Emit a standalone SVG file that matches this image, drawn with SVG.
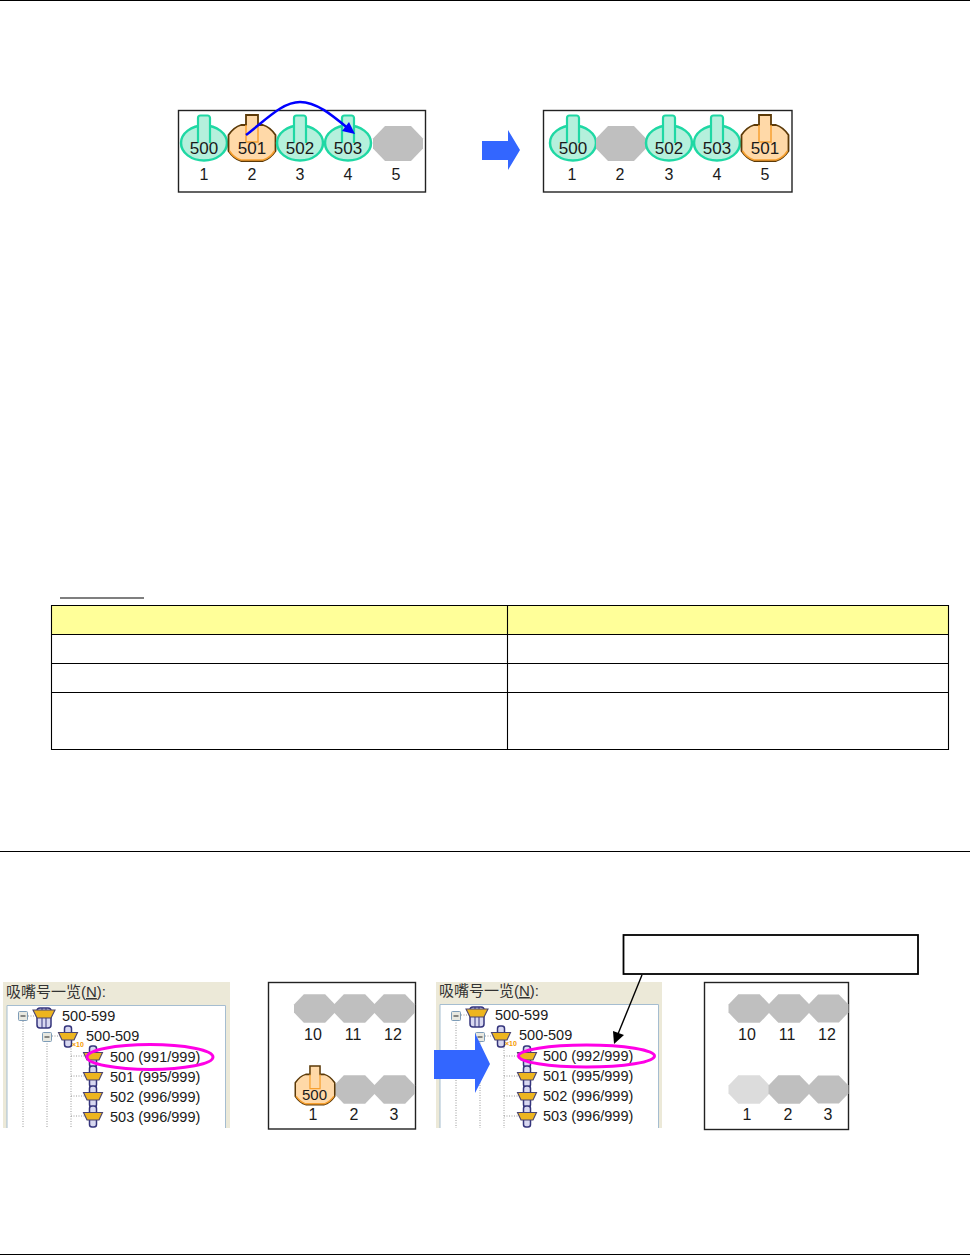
<svg xmlns="http://www.w3.org/2000/svg" width="970" height="1255" viewBox="0 0 970 1255">
<style>
text{font-family:"Liberation Sans","Noto Sans CJK SC",sans-serif;fill:#1a1a1a}
.n{font-size:17px;text-anchor:middle}
.s{font-size:16px;text-anchor:middle}
.t{font-size:14.5px}
.c{font-size:15px;fill:#333}
.rule{stroke:#000;stroke-width:1;fill:none}
.frame{fill:#fff;stroke:#222;stroke-width:1.4}
.tbl{fill:none;stroke:#000;stroke-width:1.1}
.dot{stroke:#999;stroke-width:1;stroke-dasharray:1 1.5;fill:none}
.ring{fill:none;stroke:#ff00e6;stroke-width:3}
.gray{fill:#bfbfbf}
.big{fill:#3366ff}
</style>
<defs>
<g id="green">
<ellipse cx="0" cy="0" rx="23" ry="17.500" fill="#b5f0dc" stroke="#1fd8a4" stroke-width="2.500"/>
<path d="M-6,0V-25a2.500,2.500 0 0 1 2.500,-2.500h7a2.500,2.500 0 0 1 2.500,2.500V0" fill="#b5f0dc" stroke="#1fd8a4" stroke-width="2.200"/>
</g>
<g id="orange">
<path d="M-6,-28H6V-18H11Q18,-16 23.500,-8V8Q18,16 11,18H-11Q-18,16 -23.500,8V-8Q-18,-16 -11,-18H-6Z" fill="#ffd9a8" stroke="#5c3a08" stroke-width="1.800"/>
<path d="M-6,-18V-1H6V-18" fill="none" stroke="#f7a030" stroke-width="1.500"/>
<path d="M-22.500,8Q-18,15 -11,17H11Q18,15 22.500,8" fill="none" stroke="#f7a030" stroke-width="1.600"/>
</g>
<polygon id="oct" class="gray" points="-13,-17.500 13,-17.500 25,-5 25,5 13,17.500 -13,17.500 -25,5 -25,-5"/>
<g id="noz">
<rect x="-3.500" y="-10" width="7" height="21" rx="2.500" fill="#d8d8f0" stroke="#34347c" stroke-width="1.500"/>
<path d="M-9.500,-3.500H9.500L6,4H-6Z" fill="#edb51f" stroke="#4a4470" stroke-width="1.100"/>
</g>
<g id="noz2">
<rect x="-7" y="-8" width="14" height="20" rx="3" fill="#d8d8f0" stroke="#34347c" stroke-width="1.500"/>
<path d="M-2,-8V12M2,-8V12" stroke="#34347c" stroke-width="1"/>
<path d="M-11,-6H11L7,2H-7Z" fill="#edb51f" stroke="#4a4470" stroke-width="1.100"/>
</g>
<g id="box">
<rect x="-4.500" y="-4.500" width="9" height="9" rx="1" fill="#e8e8e0" stroke="#7d9cb8"/>
<path d="M-2.500,0H2.500" stroke="#222"/>
</g>
</defs>

<rect width="970" height="1255" fill="#fff"/>

<g id="rules">
<path class="rule" d="M0,0.500H970M0,851.500H970M0,1254.500H970"/>
</g>

<g id="panel-before">
<rect class="frame" x="178.500" y="110.500" width="247" height="81.500"/>
<g id="b500"><use href="#green" x="204" y="143"/><text class="n" x="204" y="154">500</text><text class="s" x="204" y="180">1</text></g>
<g id="b501"><use href="#orange" x="252" y="143"/><text class="n" x="252" y="154">501</text><text class="s" x="252" y="180">2</text></g>
<g id="b502"><use href="#green" x="300" y="143"/><text class="n" x="300" y="154">502</text><text class="s" x="300" y="180">3</text></g>
<g id="b503"><use href="#green" x="348" y="143"/><text class="n" x="348" y="154">503</text><text class="s" x="348" y="180">4</text></g>
<g id="b5"><use href="#oct" x="398" y="143.500"/><text class="s" x="396" y="180">5</text></g>
</g>

<g id="panel-after">
<rect class="frame" x="543.500" y="110.500" width="248.500" height="81.500"/>
<g id="a500"><use href="#green" x="573" y="143"/><text class="n" x="573" y="154">500</text><text class="s" x="572" y="180">1</text></g>
<g id="a2"><use href="#oct" x="621" y="143.500"/><text class="s" x="620" y="180">2</text></g>
<g id="a502"><use href="#green" x="669" y="143"/><text class="n" x="669" y="154">502</text><text class="s" x="669" y="180">3</text></g>
<g id="a503"><use href="#green" x="717" y="143"/><text class="n" x="717" y="154">503</text><text class="s" x="717" y="180">4</text></g>
<g id="a501"><use href="#orange" x="765" y="143"/><text class="n" x="765" y="154">501</text><text class="s" x="765" y="180">5</text></g>
</g>

<g id="table">
<path d="M60,598H144" stroke="#000" stroke-width="1.100"/>
<rect x="51.500" y="605.500" width="897" height="29" fill="#ffff99"/>
<path class="tbl" d="M51.500,605.500H948.500V749.500H51.500ZM51.500,634.500H948.500M51.500,663.500H948.500M51.500,692.500H948.500M507.500,605.500V749.500"/>
</g>

<g id="tree-left">
<rect x="3" y="982" width="227" height="146" fill="#ece9d8"/>
<rect x="7" y="1005.500" width="219" height="123" fill="#fff"/>
<path d="M7,1128V1005.500H225.500V1128" fill="none" stroke="#a5bdd0"/>
<text class="c" x="6" y="997">吸嘴号一览(<tspan text-decoration="underline">N</tspan>):</text>
<path class="dot" d="M23,1021V1128M47,1041V1128M71,1046V1128M23,1016H40M47,1036H62M71,1056H88M71,1076H88M71,1096H88M71,1116H88"/>
<use href="#box" x="23" y="1016"/><use href="#box" x="47" y="1037"/>
<use href="#noz2" x="44" y="1016"/><use href="#noz" x="68" y="1036"/>
<text x="72" y="1047" font-size="7" font-weight="700" style="fill:#f59a00">×10</text>
<text class="t" x="62" y="1021">500-599</text>
<text class="t" x="86" y="1041">500-509</text>
<use href="#noz" x="93" y="1056"/><use href="#noz" x="93" y="1076"/><use href="#noz" x="93" y="1096"/><use href="#noz" x="93" y="1116"/>
<text class="t" x="110" y="1062">500 (991/999)</text>
<text class="t" x="110" y="1082">501 (995/999)</text>
<text class="t" x="110" y="1102">502 (996/999)</text>
<text class="t" x="110" y="1122">503 (996/999)</text>
<ellipse class="ring" cx="150" cy="1057" rx="63" ry="12.500"/>
</g>

<g id="slots-left">
<rect class="frame" x="268.500" y="982.500" width="147" height="146.500"/>
<g transform="translate(314.500 1008.500) scale(.82)"><use href="#oct"/></g>
<g transform="translate(354.500 1008.500) scale(.82)"><use href="#oct"/></g>
<g transform="translate(394.500 1008.500) scale(.82)"><use href="#oct"/></g>
<g transform="translate(354.500 1089.500) scale(.82)"><use href="#oct"/></g>
<g transform="translate(394.500 1089.500) scale(.82)"><use href="#oct"/></g>
<g transform="translate(315 1089.500) scale(.84)"><use href="#orange"/></g>
<text class="n" x="314.500" y="1100" style="font-size:15px">500</text>
<text class="s" x="313" y="1040">10</text><text class="s" x="353" y="1040">11</text><text class="s" x="393" y="1040">12</text>
<text class="s" x="313" y="1120">1</text><text class="s" x="354" y="1120">2</text><text class="s" x="394" y="1120">3</text>
</g>

<g id="tree-right">
<rect x="436" y="982" width="226" height="146" fill="#ece9d8"/>
<rect x="440" y="1004.500" width="219" height="124" fill="#fff"/>
<path d="M440,1128V1004.500H658.500V1128" fill="none" stroke="#a5bdd0"/>
<text class="c" x="439" y="996">吸嘴号一览(<tspan text-decoration="underline">N</tspan>):</text>
<path class="dot" d="M456,1020V1128M480,1040V1128M504,1045V1128M456,1015H473M480,1036H495M504,1056H521M504,1076H521M504,1096H521M504,1116H521"/>
<use href="#box" x="456" y="1016"/><use href="#box" x="480" y="1037"/>
<use href="#noz2" x="477" y="1015"/><use href="#noz" x="501" y="1036"/>
<text x="505" y="1046" font-size="7" font-weight="700" style="fill:#f59a00">×10</text>
<text class="t" x="495" y="1020">500-599</text>
<text class="t" x="519" y="1040">500-509</text>
<use href="#noz" x="527" y="1056"/><use href="#noz" x="527" y="1076"/><use href="#noz" x="527" y="1096"/><use href="#noz" x="527" y="1116"/>
<text class="t" x="543" y="1061">500 (992/999)</text>
<text class="t" x="543" y="1081">501 (995/999)</text>
<text class="t" x="543" y="1101">502 (996/999)</text>
<text class="t" x="543" y="1121">503 (996/999)</text>
<ellipse class="ring" cx="586.500" cy="1056" rx="68" ry="11"/>
</g>

<g id="slots-right">
<rect class="frame" x="704.500" y="982.500" width="144" height="147"/>
<g transform="translate(749 1008.500) scale(.82)"><use href="#oct"/></g>
<g transform="translate(789 1008.500) scale(.82)"><use href="#oct"/></g>
<g transform="translate(828.500 1008.500) scale(.8)"><use href="#oct"/></g>
<g transform="translate(749 1089.500) scale(.82)"><polygon points="-13,-17.500 13,-17.500 25,-5 25,5 13,17.500 -13,17.500 -25,5 -25,-5" fill="#dcdcdc"/></g>
<g transform="translate(789 1089.500) scale(.82)"><use href="#oct"/></g>
<g transform="translate(828.500 1089.500) scale(.8)"><use href="#oct"/></g>
<text class="s" x="747" y="1040">10</text><text class="s" x="787" y="1040">11</text><text class="s" x="827" y="1040">12</text>
<text class="s" x="747" y="1120">1</text><text class="s" x="788" y="1120">2</text><text class="s" x="828" y="1120">3</text>
</g>

<g id="callout">
<rect x="623.500" y="935" width="294.500" height="39" fill="#fff" stroke="#000" stroke-width="1.800"/>
</g>

<g id="connectors">
<polygon class="big" points="482,141 508,141 508,130 520,150 508,170 508,160 482,160"/>
<polygon class="big" points="434,1050 475,1050 475,1033 490,1064 475,1093 475,1079 434,1079"/>
<path d="M246,135C268,118 283,102 300,102C317,102 333,116 350,130" fill="none" stroke="#0000ff" stroke-width="2.500"/>
<polygon points="355,134 342,131 349,122" fill="#0000ff"/>
<path d="M642,975L618,1034" fill="none" stroke="#000" stroke-width="1.400"/>
<polygon points="614,1044 613,1031 624,1035" fill="#000"/>
</g>
</svg>
